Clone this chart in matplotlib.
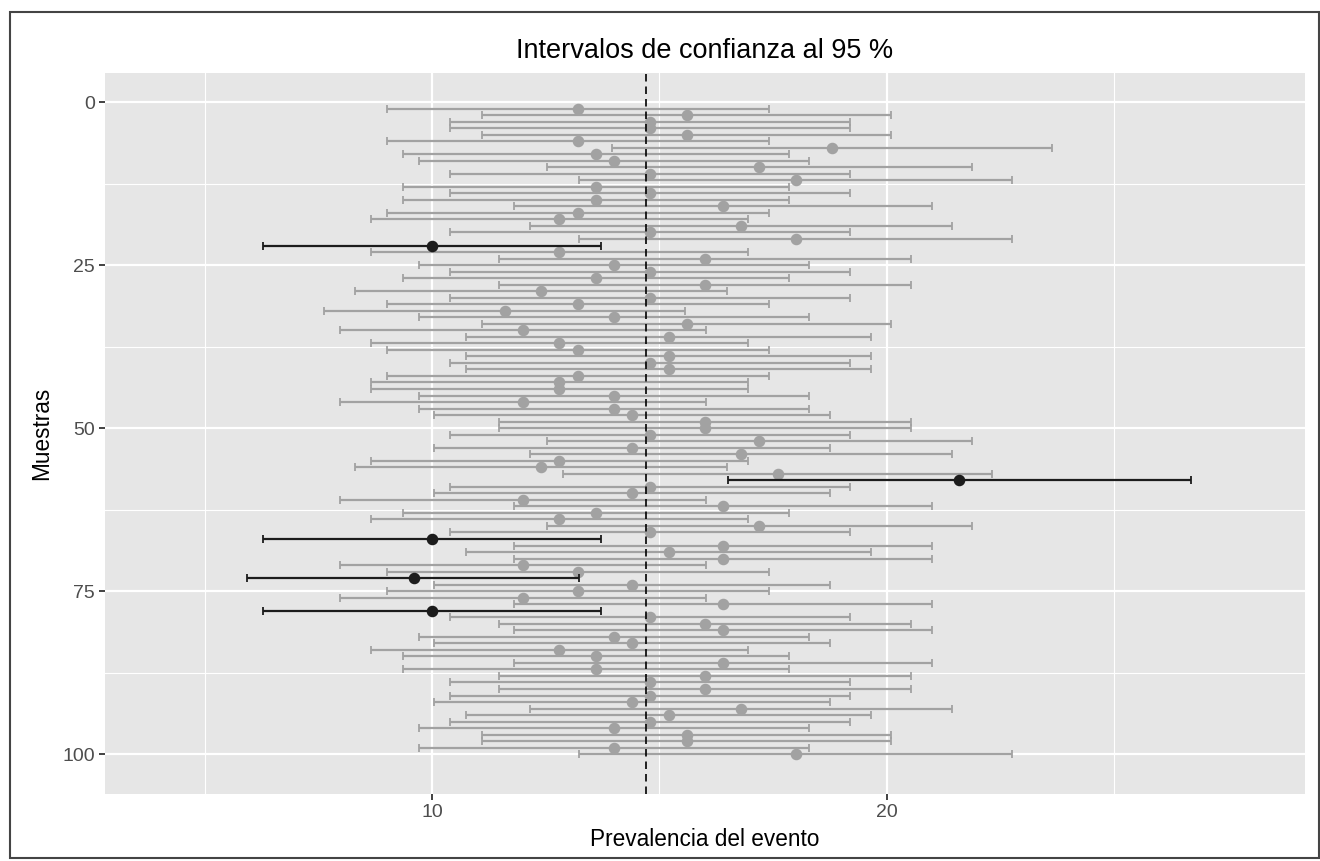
import matplotlib.pyplot as plt
from matplotlib.patches import Rectangle

plt.rcParams['font.family'] = ['Liberation Sans', 'DejaVu Sans']

# datos: una muestra por fila (1..100)
muestra = list(range(1, 101))

estimacion = [13.2, 15.6, 14.8, 14.8, 15.6, 13.2, 18.8, 13.6, 14.0, 17.2,
              14.8, 18.0, 13.6, 14.8, 13.6, 16.4, 13.2, 12.8, 16.8, 14.8,
              18.0, 10.0, 12.8, 16.0, 14.0, 14.8, 13.6, 16.0, 12.4, 14.8,
              13.2, 11.6, 14.0, 15.6, 12.0, 15.2, 12.8, 13.2, 15.2, 14.8,
              15.2, 13.2, 12.8, 12.8, 14.0, 12.0, 14.0, 14.4, 16.0, 16.0,
              14.8, 17.2, 14.4, 16.8, 12.8, 12.4, 17.6, 21.6, 14.8, 14.4,
              12.0, 16.4, 13.6, 12.8, 17.2, 14.8, 10.0, 16.4, 15.2, 16.4,
              12.0, 13.2, 9.6, 14.4, 13.2, 12.0, 16.4, 10.0, 14.8, 16.0,
              16.4, 14.0, 14.4, 12.8, 13.6, 16.4, 13.6, 16.0, 14.8, 16.0,
              14.8, 14.4, 16.8, 15.2, 14.8, 14.0, 15.6, 15.6, 14.0, 18.0]

inferior = [9.00, 11.10, 10.40, 10.40, 11.10, 9.00, 13.96, 9.35, 9.70, 12.52,
            10.40, 13.24, 9.35, 10.40, 9.35, 11.81, 9.00, 8.66, 12.16, 10.40,
            13.24, 6.28, 8.66, 11.46, 9.70, 10.40, 9.35, 11.46, 8.31, 10.40,
            9.00, 7.63, 9.70, 11.10, 7.97, 10.75, 8.66, 9.00, 10.75, 10.40,
            10.75, 9.00, 8.66, 8.66, 9.70, 7.97, 9.70, 10.05, 11.46, 11.46,
            10.40, 12.52, 10.05, 12.16, 8.66, 8.31, 12.88, 16.50, 10.40, 10.05,
            7.97, 11.81, 9.35, 8.66, 12.52, 10.40, 6.28, 11.81, 10.75, 11.81,
            7.97, 9.00, 5.92, 10.05, 9.00, 7.97, 11.81, 6.28, 10.40, 11.46,
            11.81, 9.70, 10.05, 8.66, 9.35, 11.81, 9.35, 11.46, 10.40, 11.46,
            10.40, 10.05, 12.16, 10.75, 10.40, 9.70, 11.10, 11.10, 9.70, 13.24]

superior = [17.40, 20.10, 19.20, 19.20, 20.10, 17.40, 23.64, 17.85, 18.30, 21.88,
            19.20, 22.76, 17.85, 19.20, 17.85, 20.99, 17.40, 16.94, 21.44, 19.20,
            22.76, 13.72, 16.94, 20.54, 18.30, 19.20, 17.85, 20.54, 16.49, 19.20,
            17.40, 15.57, 18.30, 20.10, 16.03, 19.65, 16.94, 17.40, 19.65, 19.20,
            19.65, 17.40, 16.94, 16.94, 18.30, 16.03, 18.30, 18.75, 20.54, 20.54,
            19.20, 21.88, 18.75, 21.44, 16.94, 16.49, 22.32, 26.70, 19.20, 18.75,
            16.03, 20.99, 17.85, 16.94, 21.88, 19.20, 13.72, 20.99, 19.65, 20.99,
            16.03, 17.40, 13.23, 18.75, 17.40, 16.03, 20.99, 13.72, 19.20, 20.54,
            20.99, 18.30, 18.75, 16.94, 17.85, 20.99, 17.85, 20.54, 19.20, 20.54,
            19.20, 18.75, 21.44, 19.65, 19.20, 18.30, 20.10, 20.10, 18.30, 22.76]

valor_real = 14.7

fig = plt.figure(figsize=(13.2, 8.61), dpi=100)
ax = fig.add_axes([0.0795, 0.0778, 0.9091, 0.8374])
ax.set_facecolor('#e6e6e6')

# grupos: contiene / no contiene el valor real
for fuera, color in [(False, '#a2a2a2'), (True, '#1c1c1c')]:
    ys, xs, lo, hi = [], [], [], []
    for m, e, i, s in zip(muestra, estimacion, inferior, superior):
        if (s < valor_real or i > valor_real) == fuera:
            ys.append(m)
            xs.append(e)
            lo.append(e - i)
            hi.append(s - e)
    ax.errorbar(xs, ys, xerr=[lo, hi], fmt='o', color=color, ecolor=color,
                elinewidth=1.6, capsize=2.6, capthick=1.3, markersize=7.3,
                zorder=3 if not fuera else 4)

ax.axvline(valor_real, color='black', linestyle=(0, (4.5, 3)), linewidth=1.2, zorder=5)

ax.set_xlim(2.8, 29.2)
ax.set_ylim(106.1, -4.45)
ax.set_xticks([10, 20])
ax.set_xticks([5, 15, 25], minor=True)
ax.set_yticks([0, 25, 50, 75, 100])
ax.set_yticks([12.5, 37.5, 62.5, 87.5], minor=True)
ax.grid(which='major', color='white', linewidth=1.6, zorder=0)
ax.grid(which='minor', color='white', linewidth=0.8, zorder=0)
ax.set_axisbelow(True)
for sp in ax.spines.values():
    sp.set_visible(False)
ax.tick_params(which='major', length=4, width=1.3, color='#333333',
               labelsize=14, labelcolor='#4d4d4d', pad=3)
ax.tick_params(which='minor', length=0)

ax.set_title('Intervalos de confianza al 95 %', fontsize=19.5, pad=11)
ax.set_xlabel('Prevalencia del evento', fontsize=16.3, labelpad=5)
ax.set_ylabel('Muestras', fontsize=16.3, labelpad=7)

# marco exterior
fig.patches.append(Rectangle((0.0076, 0.0035), 0.9916, 0.9826, transform=fig.transFigure,
                             fill=False, edgecolor='#444444', linewidth=1.5))

plt.savefig('out.png')
